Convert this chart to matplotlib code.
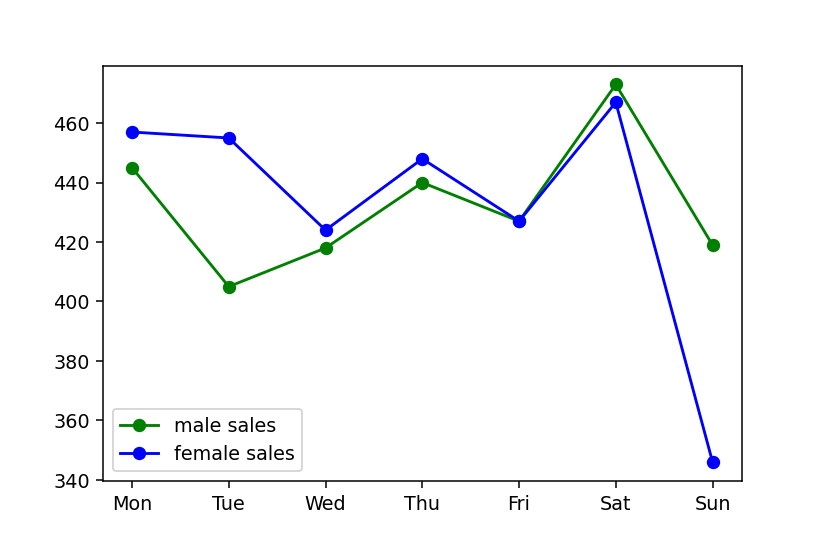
import matplotlib
matplotlib.use('Agg')
import matplotlib.pyplot as plt

days = ['Mon', 'Tue', 'Wed', 'Thu', 'Fri', 'Sat', 'Sun']
male_sales = [445, 405, 418, 440, 427, 473, 419]
female_sales = [457, 455, 424, 448, 427, 467, 346]

fig, ax = plt.subplots(figsize=(6, 4), dpi=137.33)
fig.subplots_adjust(left=0.125, right=0.9, top=0.88, bottom=0.124)

ax.plot(days, male_sales, 'g-o', label='male sales')
ax.plot(days, female_sales, 'b-o', label='female sales')
ax.legend(loc='lower left')

fig.savefig('out.png')
